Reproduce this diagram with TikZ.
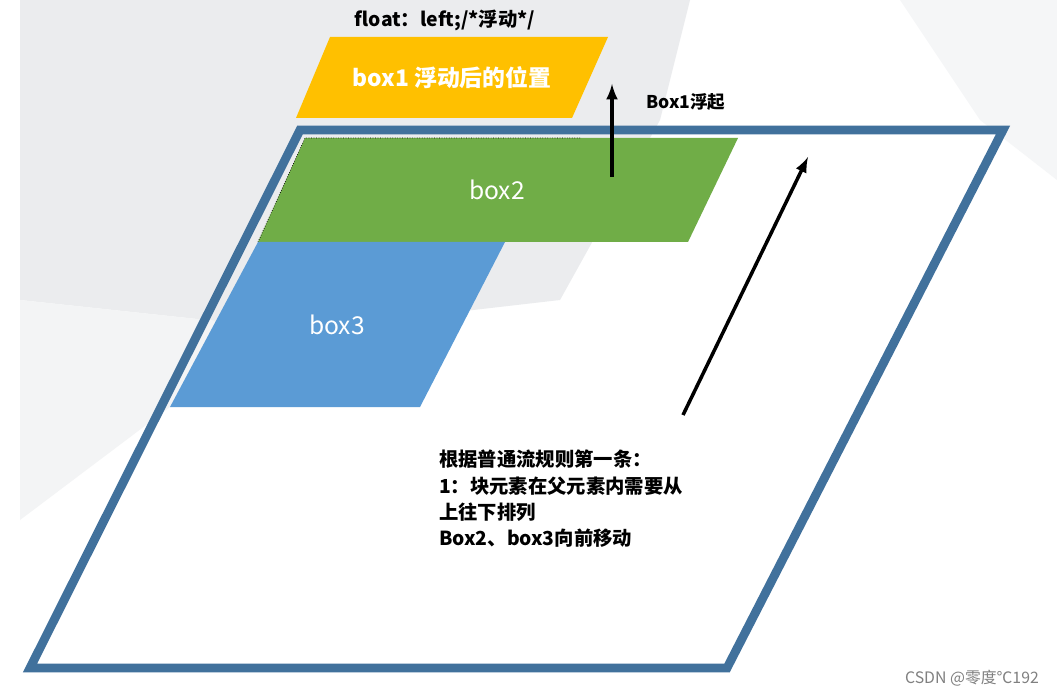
\documentclass[tikz,border=0pt]{standalone}
\usepackage{fontspec}
\newfontfamily\cjk{Noto Sans CJK SC}
\usetikzlibrary{positioning}
\definecolor{frameblue}{HTML}{41719C}
\definecolor{boxyellow}{HTML}{FFC000}
\definecolor{boxgreen}{HTML}{70AD47}
\definecolor{boxblue}{HTML}{5B9BD5}
\definecolor{bggray}{HTML}{EBECEE}
\tikzset{
  lbl/.style={font=\cjk\bfseries\fontsize{11}{15}\selectfont, text=black},
  boxtxt/.style={font=\cjk\fontsize{14}{16}\selectfont, text=white},
  up/.style={-latex, line width=2pt}
}
\begin{document}
\begin{tikzpicture}[x=0.02cm,y=-0.02cm]
  \useasboundingbox (0,0) rectangle (1057,695);
  \fill[white] (0,0) rectangle (1057,695);
  % background
  \fill[bggray] (20,0) -- (690,0) -- (660,120) -- (560,300) -- (300,330) -- (20,300) -- cycle;
  \fill[bggray!60] (20,300) -- (300,330) -- (170,407) -- (20,520) -- cycle;
  \fill[bggray!50] (900,0) -- (1057,0) -- (1057,180) -- (980,120) -- cycle;
  % parent box
  \draw[frameblue, line width=5pt, line join=miter] (300,130) -- (1003,130) -- (727,668) -- (30,668) -- cycle;
  % boxes
  \fill[boxyellow] (330,37) -- (608,37) -- (572,118) -- (296,118) -- cycle;
  \node[boxtxt, font=\cjk\bfseries\fontsize{13}{16}\selectfont] (box1) at (452,78) {box1 浮动后的位置};
  \fill[boxgreen] (305,138) -- (738,138) -- (688,242) -- (258,242) -- cycle;
  \draw[densely dotted, thin] (580,138) -- (305,138) -- (258,242);
  \node[boxtxt] (box2) at (497,190) {box2};
  \fill[boxblue] (258,242) -- (505,242) -- (420,407) -- (170,407) -- cycle;
  \node[boxtxt] (box3) at (337,325) {box3};
  % arrows
  \coordinate (a1s) at (612,177);
  \coordinate (a1e) at (612,84);
  \draw[up] (a1s) -- (a1e);
  \node[lbl, font=\cjk\bfseries\fontsize{10}{12}\selectfont, anchor=west] (float) at (640,102) {Box1浮起};
  \coordinate (a2s) at (683,415);
  \coordinate (a2e) at (808,157);
  \draw[up] (a2s) -- (a2e);
  % texts
  \node[lbl] (css) at (445,20) {float：left;/*浮动*/};
  \node[lbl, anchor=north west, align=left] (rule) at (433,444)
    {根据普通流规则第一条：\\1：块元素在父元素内需要从\\上往下排列\\Box2、box3向前移动};
  \node[font=\cjk\fontsize{9}{11}\selectfont, text=gray, anchor=east] (mark) at (1045,678) {CSDN @零度℃192};
\end{tikzpicture}
\end{document}
